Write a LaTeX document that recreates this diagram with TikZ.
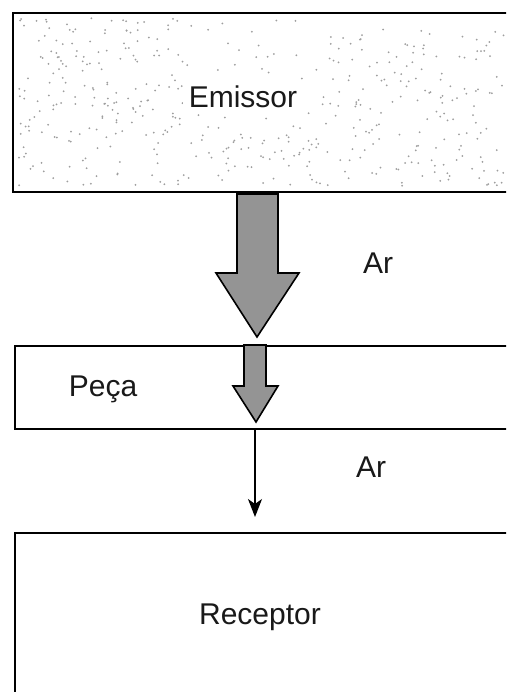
\documentclass[tikz,border=0pt]{standalone}
\usepackage{fontspec}
\setmainfont{Liberation Sans}
\usetikzlibrary{arrows.meta}
\begin{document}
\begin{tikzpicture}[x=1pt,y=-1pt,
  box/.style={draw=black,line width=1.6pt,rectangle,anchor=north west,inner sep=0pt},
  lbl/.style={font=\fontsize{30}{34}\selectfont,text=black!90,inner sep=0pt},
  fatarrow/.style={draw=black,line width=1.6pt,fill=black!42,line join=miter},
  thin/.style={draw=black,line width=1.4pt,-{Stealth[length=18pt,width=14pt,inset=5pt]}},
  dot/.style={fill=black!38}]
\useasboundingbox (0,0) rectangle (506,692);
\clip (0,0) rectangle (506,692);
\fill[white] (0,0) rectangle (506,692);
% Emissor box
\node[box,minimum width=510pt,minimum height=179pt] (emissor) at (12,12) {};
\pgfmathsetseed{11}
\foreach \i in {1,...,200}{\fill[dot] ({18+rnd*175},{18+rnd*168}) circle (1);}
\foreach \i in {1,...,50}{\fill[dot] ({195+rnd*130},{18+rnd*168}) circle (1);}
\foreach \i in {1,...,45}{\fill[dot] ({195+rnd*130},{125+rnd*60}) circle (1);}
\foreach \i in {1,...,170}{\fill[dot] ({325+rnd*180},{28+rnd*158}) circle (1);}
\fill[white] (183,80) rectangle (303,114);
\node[lbl] (emtxt) at (243,97) {Emissor};
% Peca box
\node[box,minimum width=510pt,minimum height=83pt] (peca) at (14,345) {};
\node[lbl] (pecatxt) at (103,389) {Peça};
% Receptor box
\node[box,minimum width=510pt,minimum height=200pt] (receptor) at (14,532) {};
\node[lbl] (rectxt) at (260,617) {Receptor};
% big arrow
\draw[fatarrow] (237,194) -- (278,194) -- (278,273) -- (299,273) -- (257,337) -- (216,273) -- (237,273) -- cycle;
% small arrow
\draw[fatarrow] (244,345) -- (266,345) -- (266,386) -- (278,386) -- (256,422) -- (233,386) -- (244,386) -- cycle;
% thin arrow
\coordinate (thinend) at (255,517);
\draw[thin] (peca.south -| thinend) -- (thinend);
% labels
\node[lbl] (ar1) at (378,263) {Ar};
\node[lbl] (ar2) at (371,467) {Ar};
\end{tikzpicture}
\end{document}
